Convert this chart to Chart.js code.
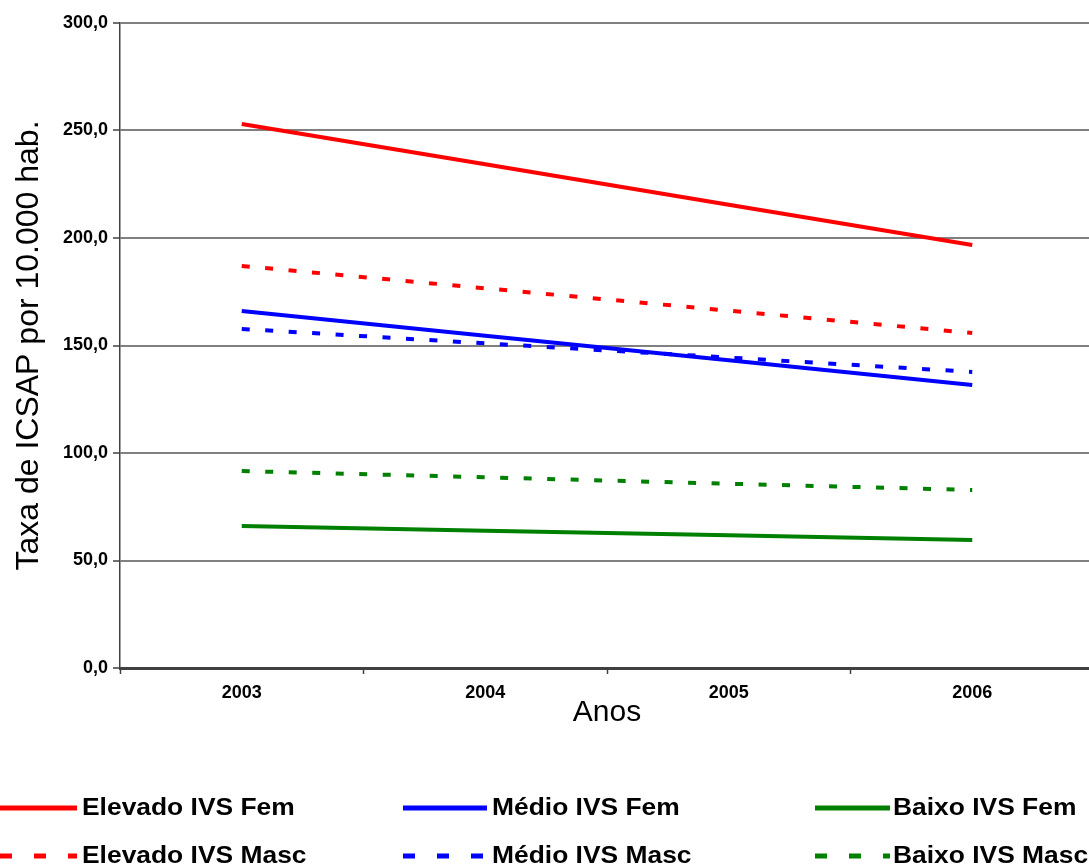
<!DOCTYPE html>
<html>
<head>
<meta charset="utf-8">
<script src="https://cdn.jsdelivr.net/npm/chart.js@4.4.1/dist/chart.umd.min.js"></script>
<style>
  html, body { margin: 0; padding: 0; background: #fff; overflow: hidden; width: 1089px; height: 868px; }
  #wrap { position: absolute; left: 0; top: 0; width: 1094px; height: 731px; }
  #legend { position: absolute; left: 0; top: 0; width: 1089px; height: 868px; pointer-events: none; }
  .lg-item { position: absolute; height: 30px; }
  .lg-text { position: absolute; top: 0; line-height: 30px; font: bold 24px "Liberation Sans", Arial, sans-serif; color: #000; white-space: nowrap; transform: scaleX(1.1); transform-origin: 0 50%; }
</style>
</head>
<body>
<div id="wrap"><canvas id="c" width="1094" height="731"></canvas></div>
<div id="legend"></div>
<script>
// ---- data ----
const years = ['2003', '2004', '2005', '2006'];
const elevadoFem  = [253.0, 234.3, 215.5, 196.7];
const medioFem    = [166.0, 154.5, 143.1, 131.6];
const baixoFem    = [66.0, 63.8, 61.7, 59.5];
const elevadoMasc = [187.0, 176.6, 166.2, 155.8];
const medioMasc   = [157.7, 151.0, 144.4, 137.7];
const baixoMasc   = [91.6, 88.7, 85.7, 82.8];
const seriesNames = ['Elevado IVS Fem', 'Médio IVS Fem', 'Baixo IVS Fem',
                     'Elevado IVS Masc', 'Médio IVS Masc', 'Baixo IVS Masc'];
const yTicks = [0, 50, 100, 150, 200, 250, 300];

const RED = '#ff0000', BLUE = '#0000ff', GREEN = '#008000';
const DASH = [8, 15.5];

function ds(label, data, color, dashed) {
  return {
    label, data,
    borderColor: color, backgroundColor: color,
    borderWidth: 4, borderDash: dashed ? DASH : [],
    pointRadius: 0, pointHoverRadius: 0, tension: 0, fill: false
  };
}

const datasets = [
  ds(seriesNames[0], elevadoFem, RED, false),
  ds(seriesNames[1], medioFem, BLUE, false),
  ds(seriesNames[2], baixoFem, GREEN, false),
  ds(seriesNames[3], elevadoMasc, RED, true),
  ds(seriesNames[4], medioMasc, BLUE, true),
  ds(seriesNames[5], baixoMasc, GREEN, true)
];

const tickFont = { family: '"Liberation Sans", Arial, sans-serif', size: 18, weight: 'bold' };

new Chart(document.getElementById('c'), {
  type: 'line',
  data: { labels: years, datasets },
  options: {
    responsive: false,
    animation: false,
    devicePixelRatio: 1,
    layout: { padding: { top: 23, right: 0, left: 0, bottom: 0 } },
    plugins: { legend: { display: false }, tooltip: { enabled: false } },
    scales: {
      x: {
        offset: true,
        grid: { offset: true, drawOnChartArea: false, drawTicks: true, tickLength: 6, tickColor: '#404040', tickWidth: 1.5 },
        border: { display: true, color: '#404040', width: 3 },
        ticks: { color: '#000', font: tickFont, padding: 8, maxRotation: 0 },
        title: { display: true, text: 'Anos', color: '#000', font: { family: '"Liberation Sans", Arial, sans-serif', size: 30 }, padding: { top: 0, bottom: 0 } },
        afterFit(scale) { scale.height = 63; }
      },
      y: {
        min: 0, max: 300,
        afterBuildTicks(scale) { scale.ticks = yTicks.map(v => ({ value: v })); },
        grid: { color: '#808080', lineWidth: 2, tickLength: 7, tickColor: '#404040', tickWidth: 1.5 },
        border: { display: true, color: '#404040', width: 1.5 },
        ticks: {
          color: '#000', font: tickFont, padding: 5,
          callback: v => Number(v).toFixed(1).replace('.', ',')
        },
        title: { display: true, text: 'Taxa de ICSAP por 10.000 hab.', color: '#000', font: { family: '"Liberation Sans", Arial, sans-serif', size: 32 }, padding: { top: 10, bottom: 0 } },
        afterFit(scale) { scale.width = 120; }
      }
    }
  }
});

// ---- HTML legend built from the datasets ----
const legendCols = [
  { lineX: 0, lineW: 77, textX: 82 },
  { lineX: 403, lineW: 84, textX: 492 },
  { lineX: 815, lineW: 75, textX: 893 }
];
const legendRows = [793, 841];
const legend = document.getElementById('legend');
datasets.forEach((d, i) => {
  const col = legendCols[i % 3];
  const top = legendRows[Math.floor(i / 3)];
  const item = document.createElement('div');
  item.className = 'lg-item';
  item.style.left = '0px';
  item.style.top = top + 'px';
  const svgNS = 'http://www.w3.org/2000/svg';
  const svg = document.createElementNS(svgNS, 'svg');
  svg.setAttribute('width', col.lineW);
  svg.setAttribute('height', 30);
  svg.style.position = 'absolute';
  svg.style.left = col.lineX + 'px';
  svg.style.top = '0px';
  const ln = document.createElementNS(svgNS, 'line');
  ln.setAttribute('x1', 0); ln.setAttribute('x2', col.lineW);
  ln.setAttribute('y1', 15); ln.setAttribute('y2', 15);
  ln.setAttribute('stroke', d.borderColor);
  ln.setAttribute('stroke-width', 5);
  if (d.borderDash.length) ln.setAttribute('stroke-dasharray', '12 22');
  svg.appendChild(ln);
  item.appendChild(svg);
  const t = document.createElement('div');
  t.className = 'lg-text';
  t.style.left = col.textX + 'px';
  t.textContent = d.label;
  item.appendChild(t);
  legend.appendChild(item);
});
</script>
</body>
</html>
